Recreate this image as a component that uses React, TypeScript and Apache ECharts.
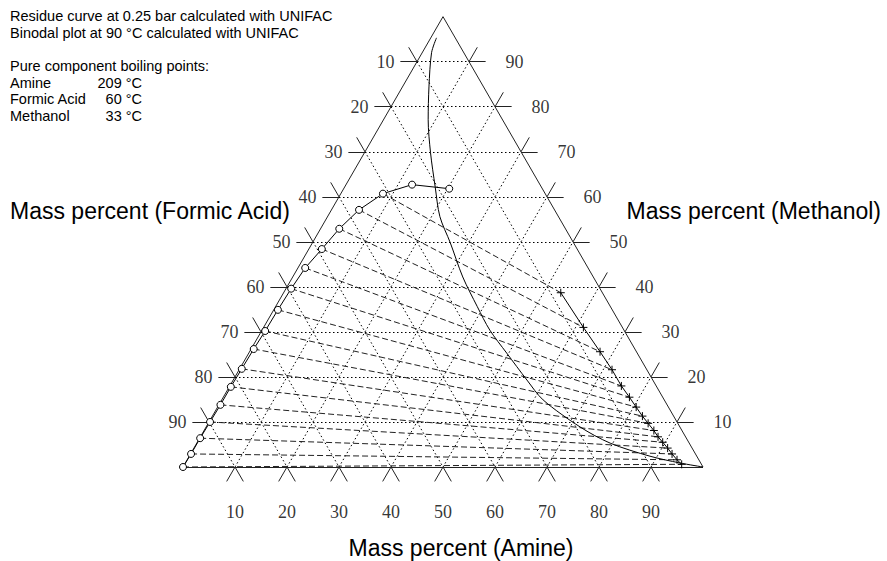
import React, { useEffect, useRef } from "react";
import * as echarts from "echarts";

// Tick values shown on each side of the triangle (mass percent)
const tickValues = [10, 20, 30, 40, 50, 60, 70, 80, 90];

// Binodal (90 °C), formic-acid-rich branch: [Amine %, Methanol %]
const binodalFormicBranch: [number, number][] = [
  [0, 0], [0.1, 2.9], [0.1, 6.4], [0.2, 10], [0.3, 13.8], [0.3, 17.8],
  [0.4, 21.8], [0.5, 26.2], [0.7, 30.2], [0.8, 34.9], [1.0, 39.6], [1.4, 44.2],
  [2.5, 48.4], [3.6, 52.9], [5.3, 57.1], [8.1, 60.7], [12.7, 62.7], [20.3, 61.8],
];

// Binodal (90 °C), amine-rich branch: [Amine %, Methanol %]
const binodalAmineBranch: [number, number][] = [
  [53.3, 38.7], [61.5, 31.0], [67.4, 25.6], [71.7, 21.6], [75.3, 18.0], [78.1, 15.5],
  [80.5, 13.3], [82.7, 11.3], [84.6, 9.7], [86.5, 8.1], [88.0, 6.7], [89.5, 5.5],
  [91.1, 4.2], [92.6, 2.9], [94.2, 1.6], [95.6, 0.6],
];

// Residue curve at 0.25 bar: [Amine %, Methanol %]
const residueCurve: [number, number][] = [
  [1.1, 95.3], [1.8, 92], [5.1, 84.4], [8.6, 77.1], [12.7, 69.8], [17.4, 62.2],
  [21.6, 55.6], [26.5, 49.8], [32.7, 42.2], [38.8, 35.6], [43.8, 30.4], [49.6, 25.3],
  [56.5, 19.3], [61.8, 14.9], [71.9, 8.9], [79.5, 5.3], [88.6, 2.4], [95.1, 0.9], [100, 0],
];

const noteLines = [
  "Residue curve at 0.25 bar calculated with UNIFAC",
  "Binodal plot at 90 °C calculated with UNIFAC",
];
const boilingTitle = "Pure component boiling points:";
const componentNames = ["Amine", "Formic Acid", "Methanol"];
const boilingPoints = ["209 °C", "60 °C", "33 °C"];

const titleFormic = "Mass percent (Formic Acid)";
const titleMethanol = "Mass percent (Methanol)";
const titleAmine = "Mass percent (Amine)";

// ---- geometry helpers (layout) ----
const SQ = Math.sqrt(3) / 2;
const PX = 520; // pixels per unit edge length
const toXY = (a: number, m: number): [number, number] => [a / 100 + m / 200, (m / 100) * SQ];
const STUB = 3.2; // percent units for tick stubs

function buildOption() {
  const gridSegs: { coords: [number, number][] }[] = [];
  const stubSegs: { coords: [number, number][] }[] = [];
  tickValues.forEach((v) => {
    gridSegs.push({ coords: [toXY(0, v), toXY(100 - v, v)] });
    stubSegs.push({ coords: [toXY(-STUB, v), toXY(0, v)] });
    stubSegs.push({ coords: [toXY(100 - v, v), toXY(100 - v + STUB, v)] });
    gridSegs.push({ coords: [toXY(0, 100 - v), toXY(100 - v, 0)] });
    stubSegs.push({ coords: [toXY(-STUB, 100 - v + STUB), toXY(0, 100 - v)] });
    stubSegs.push({ coords: [toXY(100 - v, 0), toXY(100 - v + STUB, -STUB)] });
    gridSegs.push({ coords: [toXY(v, 0), toXY(v, 100 - v)] });
    stubSegs.push({ coords: [toXY(v, -STUB), toXY(v, 0)] });
    stubSegs.push({ coords: [toXY(v, 100 - v), toXY(v, 100 - v + STUB)] });
  });

  const border = [
    { coords: [toXY(0, 0), toXY(100, 0)] },
    { coords: [toXY(100, 0), toXY(0, 100)] },
    { coords: [toXY(0, 100), toXY(0, 0)] },
  ];

  const n = binodalAmineBranch.length;
  const ties = binodalAmineBranch.map((_, i) => ({
    coords: [toXY(...binodalFormicBranch[i]), toXY(...binodalAmineBranch[n - 1 - i])],
  }));

  const leftLabels = tickValues.map((v) => {
    const p = toXY(0, 100 - v);
    return [p[0] - 22 / PX, p[1], String(v)];
  });
  const rightLabels = tickValues.map((v) => {
    const p = toXY(100 - v, v);
    return [p[0] + 36 / PX, p[1], String(v)];
  });
  const bottomLabels = tickValues.map((v) => {
    const p = toXY(v, 0);
    return [p[0], p[1] - 45 / PX, String(v)];
  });

  const serif = '"Liberation Serif", "Times New Roman", serif';
  const sans = '"Liberation Sans", Arial, sans-serif';
  const tickLabel = (position: string) => ({
    show: true,
    position,
    distance: 0,
    formatter: (p: any) => p.value[2],
    fontFamily: serif,
    fontSize: 18,
    color: "#000",
  });

  const noteFont = `14.5px ${sans}`;
  const graphics: any[] = [];
  noteLines.forEach((t, i) =>
    graphics.push({ type: "text", x: 10, y: [16, 33][i], style: { text: t, font: noteFont, fill: "#000", verticalAlign: "middle" } })
  );
  graphics.push({ type: "text", x: 10, y: 66, style: { text: boilingTitle, font: noteFont, fill: "#000", verticalAlign: "middle" } });
  componentNames.forEach((c, i) => {
    const y = [82.5, 99, 115.5][i];
    graphics.push({ type: "text", x: 10, y, style: { text: c, font: noteFont, fill: "#000", verticalAlign: "middle" } });
    graphics.push({ type: "text", x: 142, y, style: { text: boilingPoints[i], font: noteFont, fill: "#000", align: "right", verticalAlign: "middle" } });
  });
  const titleFont = `23px ${sans}`;
  graphics.push({ type: "text", x: 10, y: 211, style: { text: titleFormic, font: titleFont, fill: "#000", verticalAlign: "middle" } });
  graphics.push({ type: "text", x: 881, y: 211, style: { text: titleMethanol, font: titleFont, fill: "#000", align: "right", verticalAlign: "middle" } });
  graphics.push({ type: "text", x: 461, y: 548, style: { text: titleAmine, font: titleFont, fill: "#000", align: "center", verticalAlign: "middle" } });

  return {
    animation: false,
    backgroundColor: "#fff",
    grid: { left: 0, right: 0, top: 0, bottom: 0 },
    xAxis: { type: "value", min: -183 / PX, max: 704 / PX, show: false },
    yAxis: { type: "value", min: -94 / PX, max: 467 / PX, show: false },
    graphic: graphics,
    series: [
      {
        type: "lines", coordinateSystem: "cartesian2d", silent: true, data: gridSegs,
        lineStyle: { color: "#000", width: 1, type: [1.5, 2.5], opacity: 1 },
      },
      {
        type: "lines", coordinateSystem: "cartesian2d", silent: true, data: stubSegs,
        lineStyle: { color: "#222", width: 1, type: "solid", opacity: 1 },
      },
      {
        type: "lines", coordinateSystem: "cartesian2d", silent: true, data: border,
        lineStyle: { color: "#222", width: 1, type: "solid", opacity: 1 },
      },
      {
        type: "lines", coordinateSystem: "cartesian2d", silent: true, data: ties,
        lineStyle: { color: "#222", width: 1, type: [6, 3], opacity: 1 },
      },
      {
        type: "line", silent: true, smooth: 0.3, showSymbol: false,
        data: residueCurve.map((p) => toXY(...p)),
        lineStyle: { color: "#000", width: 1 },
      },
      {
        type: "line", silent: true, symbol: "circle", symbolSize: 7,
        data: binodalFormicBranch.map((p) => toXY(...p)),
        lineStyle: { color: "#000", width: 1 },
        itemStyle: { color: "#fff", borderColor: "#000", borderWidth: 1 },
      },
      {
        type: "line", silent: true, symbol: "path://M5 0 L5 10 M0 5 L10 5", symbolSize: 8,
        data: binodalAmineBranch.map((p) => toXY(...p)),
        lineStyle: { color: "#000", width: 1 },
        itemStyle: { color: "none", borderColor: "#000", borderWidth: 1 },
      },
      { type: "scatter", silent: true, symbolSize: 1, itemStyle: { color: "transparent" }, data: leftLabels, label: tickLabel("left") },
      { type: "scatter", silent: true, symbolSize: 1, itemStyle: { color: "transparent" }, data: rightLabels, label: tickLabel("right") },
      { type: "scatter", silent: true, symbolSize: 1, itemStyle: { color: "transparent" }, data: bottomLabels, label: tickLabel("inside") },
    ],
  };
}

export default function App() {
  const ref = useRef<HTMLDivElement>(null);
  useEffect(() => {
    const chart = echarts.init(ref.current!, null, { renderer: "svg" });
    chart.setOption(buildOption() as any);
    return () => chart.dispose();
  }, []);
  return <div ref={ref} style={{ position: "absolute", left: 0, top: 0, width: 887, height: 561 }} />;
}
